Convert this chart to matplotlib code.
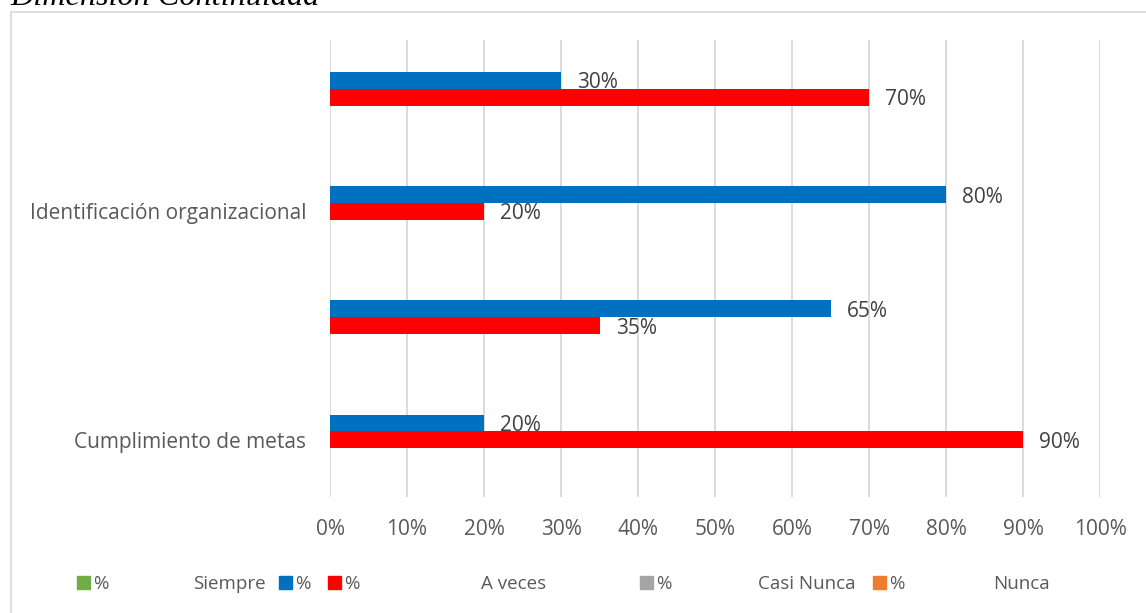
import numpy as np
import matplotlib
matplotlib.use("Agg")
import matplotlib.pyplot as plt
from matplotlib.patches import Rectangle

# Datos
categorias = ["Cumplimiento de metas", "", "Identificación organizacional", ""]
azul = [20, 65, 80, 30]
rojo = [90, 35, 20, 70]
ticks_x = [0, 10, 20, 30, 40, 50, 60, 70, 80, 90, 100]

leyenda_colores = ["#70AD47", None, "#0070C0", "#FF0000", None, "#A5A5A5", None, "#ED7D31", None]
leyenda_textos = ["%", "Siempre", "%", "%", "A veces", "%", "Casi Nunca", "%", "Nunca"]

W, H = 1146, 613
gris_txt = "#595959"
fs = 15        # ejes y etiquetas
fs_ley = 13.5  # leyenda
plt.rcParams['font.family'] = ['Open Sans', 'DejaVu Sans']

fig = plt.figure(figsize=(W / 100, H / 100), dpi=100)

# marco del grafico
fig.patches.append(Rectangle((11 / W, -0.1), 2, 1.1 - 12 / H, transform=fig.transFigure,
                             fill=False, edgecolor="#d9d9d9", lw=1.2))

fig.text(10 / W, 1 - 5 / H, "Dimensión Continuidad", family="Liberation Serif",
         style="italic", fontsize=23.2, va="baseline", ha="left", color="black")

ax = fig.add_axes([330 / W, 1 - 497 / H, 770 / W, 457 / H])

y = np.arange(len(categorias))
alto = 0.147
ax.barh(y + alto, azul, height=alto, color="#0070C0", zorder=2)
ax.barh(y, rojo, height=alto, color="#FF0000", zorder=3)

for i in range(len(categorias)):
    ax.text(azul[i] + 2.1, y[i] + alto, f"{azul[i]}%", va="center_baseline", ha="left",
            fontsize=fs, color="#404040", zorder=2.5)
    ax.text(rojo[i] + 2.1, y[i], f"{rojo[i]}%", va="center_baseline", ha="left",
            fontsize=fs, color="#404040", zorder=4)

ax.set_xlim(0, 100)
ax.set_ylim(-0.5, 3.5)
ax.set_xticks(ticks_x)
ax.set_xticklabels([f"{t}%" for t in ticks_x])
ax.set_yticks(y)
ax.set_yticklabels(categorias)
ax.tick_params(axis="both", length=0, labelsize=fs, labelcolor=gris_txt)
ax.tick_params(axis="x", pad=16)
ax.tick_params(axis="y", pad=17)
ax.grid(axis="x", color="#d9d9d9", lw=1.3, zorder=0)
ax.set_axisbelow(True)
for s in ax.spines.values():
    s.set_visible(False)

# leyenda
pos_x = [77, 193, 279, 328, 481, 640, 758, 873, 993]
yc = 582
for c, t, x in zip(leyenda_colores, leyenda_textos, pos_x):
    if c is not None:
        fig.patches.append(Rectangle((x / W, 1 - (yc + 7) / H), 13 / W, 13 / H,
                                     transform=fig.transFigure, color=c))
        fig.text((x + 16) / W, 1 - yc / H, t, fontsize=fs_ley, color=gris_txt,
                 va="center_baseline", ha="left")
    else:
        fig.text(x / W, 1 - yc / H, t, fontsize=fs_ley, color=gris_txt,
                 va="center_baseline", ha="left")

fig.savefig("out.png", dpi=100)
